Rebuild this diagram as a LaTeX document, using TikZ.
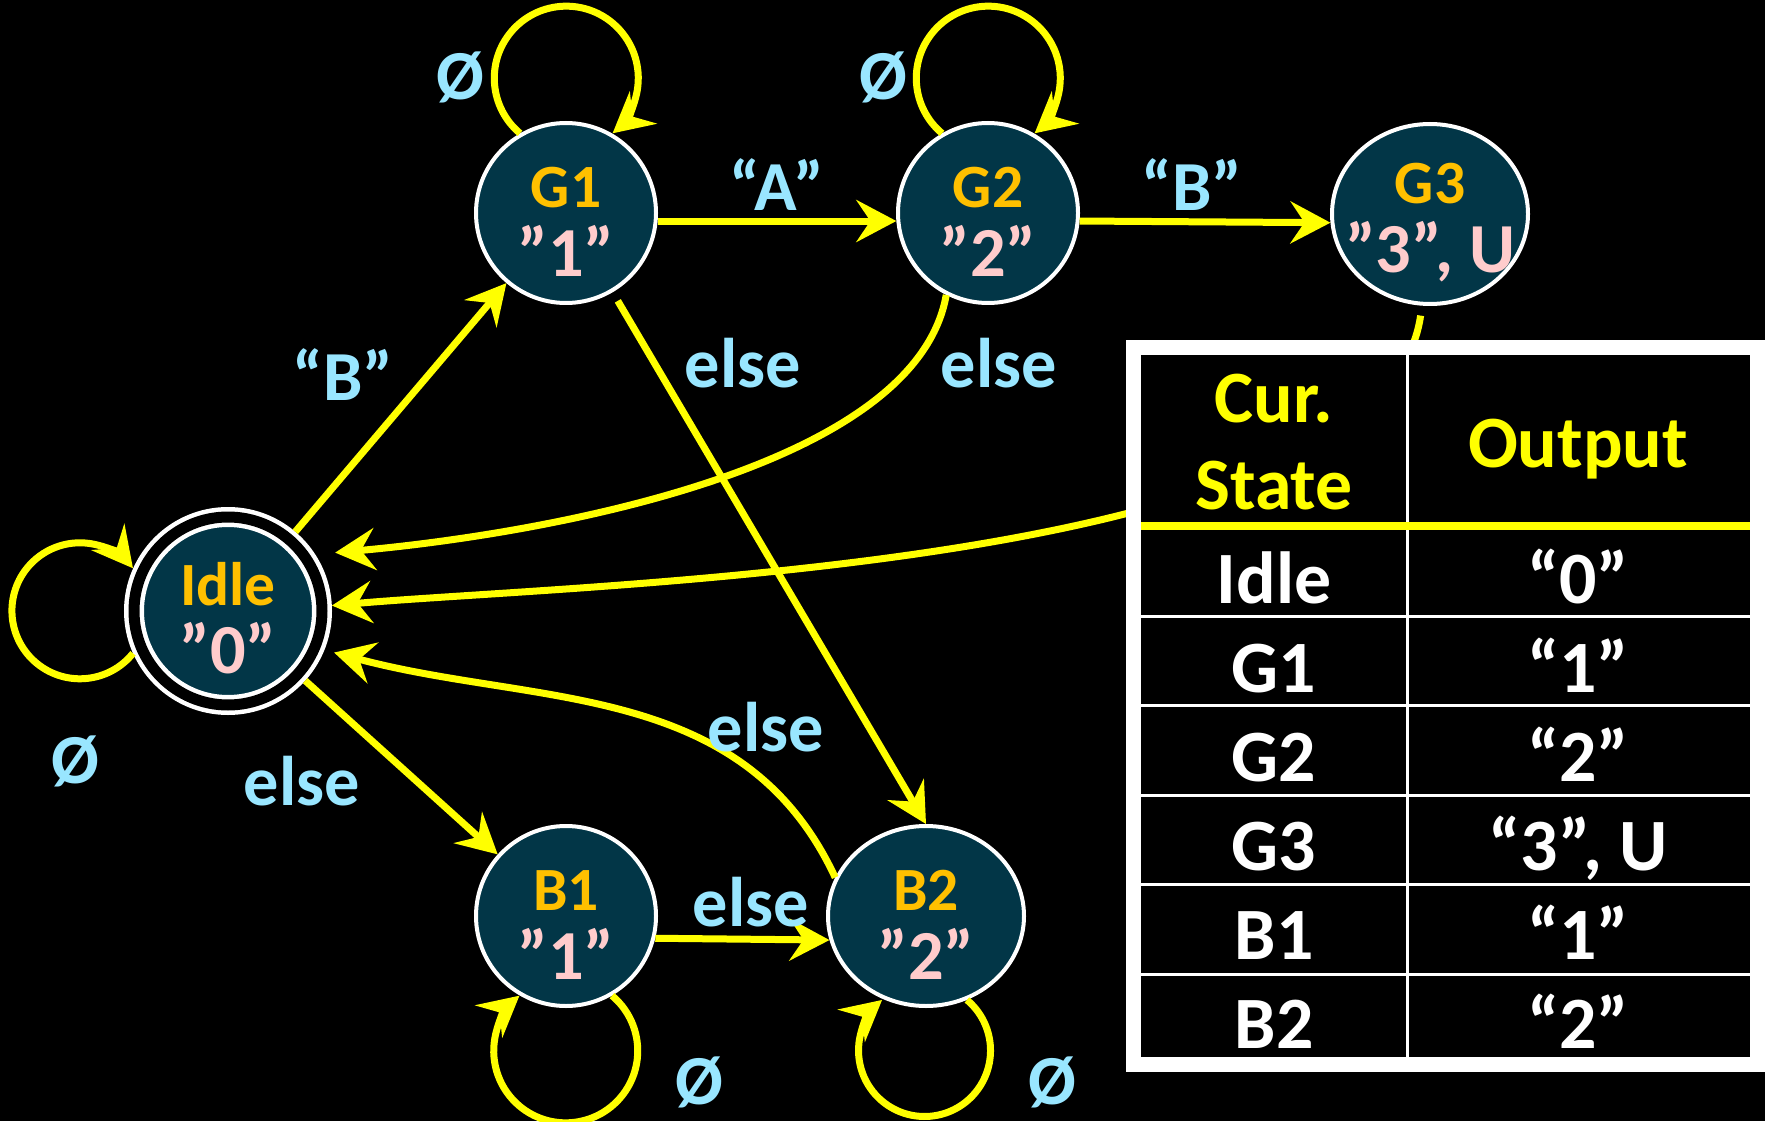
\documentclass[tikz,border=0pt]{standalone}
\usepackage{fontspec}
\setmainfont{Carlito}
\usepackage{tikz}
\usetikzlibrary{arrows.meta, shapes.geometric, positioning}

\definecolor{stfill}{HTML}{023647}
\definecolor{stname}{HTML}{FFC000}
\definecolor{stout}{HTML}{FFCCCC}
\definecolor{lblcol}{HTML}{99E6FF}
\definecolor{edgecol}{HTML}{FFFF00}

\newcommand{\stxt}[2]{\rule{0pt}{5.75mm}{\fontsize{17.5}{19.5}\selectfont\color{stname}#1}\\%
  {\fontsize{20}{19.5}\selectfont\color{stout}#2}}

\tikzset{
  state/.style={circle, draw=white, line width=0.4mm, fill=stfill, minimum size=18mm,
    inner sep=0pt, outer sep=0.2mm, align=center, font=\fontsize{20}{19.5}\selectfont\bfseries},
  wide/.style={ellipse, minimum width=19.6mm, minimum height=18mm, inner xsep=-2.5mm, inner ysep=-1.5mm},
  idle/.style={state, minimum size=18.8mm, line width=0.45mm, double=black,
    double distance=1.1mm, outer sep=1mm},
  trans/.style={draw=edgecol, line width=0.7mm, -{Stealth[length=4mm, width=4.2mm, inset=1.4mm]}},
  lbl/.style={text=lblcol, font=\fontsize{20}{24}\selectfont\bfseries, inner sep=0pt},
  cell/.style={font=\fontsize{21}{25}\selectfont\bfseries, align=center, inner sep=0pt}
}

\begin{document}
\begin{tikzpicture}[x=0.1mm, y=0.1mm]
\fill[black] (0,0) rectangle (1765,1121);
\useasboundingbox (0,0) rectangle (1765,1121);

% states
\node[idle] (Idle) at (228,510) {\stxt{Idle}{”0”}};
\node[state] (G1) at (566,908) {\stxt{G1}{”1”}};
\node[state] (G2) at (988,908) {\stxt{G2}{”2”}};
\node[state, wide] (G3) at (1430,907) {\stxt{G3}{”3”, U}};
\node[state] (B1) at (566,205) {\stxt{B1}{”1”}};
\node[state, wide] (B2) at (926,205) {\stxt{B2}{”2”}};

% transitions
\draw[trans] (Idle) -- (G1);
\draw[trans] (G1.-5) -- (G2.185);
\draw[trans] (G2.-5) -- (G3.185);
\draw[trans, shorten <=1mm] (G1) -- (B2.north);
\draw[trans] (Idle) -- (B1);
\draw[trans] (B1.-14.5) -- (B2.194);
\draw[trans, shorten >=2mm] (G2.243) to[out=260, in=5, looseness=0.7] (Idle.33);
\draw[trans, shorten <=1mm] (G3.-95) to[out=262, in=5, looseness=0.6] (Idle.3);
\draw[trans, shorten >=1mm] (B2.157) to[out=115, in=-15] (Idle.-22);

% self loops
\draw[trans] (Idle.204) arc[start angle=-38.7, end angle=-321.3, radius=68];
\draw[trans] (G1.120) arc[start angle=230, end angle=-50, radius=72];
\draw[trans] (G2.120) arc[start angle=230, end angle=-50, radius=72];
\draw[trans] (B1.-60) arc[start angle=50, end angle=-230, radius=72];
\draw[trans] (B2.-64) arc[start angle=50, end angle=-230, radius=66];

% labels
\node[lbl] (lbA) at (777,936) {“A”};
\node[lbl] (lbB) at (1192,936) {“B”};
\node[lbl] (lbIdleG1) at (343,746) {“B”};
\node[lbl] (lbG1B2) at (743,758) {else};
\node[lbl] (lbG2Idle) at (999,758) {else};
\node[lbl] (lbB2Idle) at (766,394) {else};
\node[lbl] (lbIdleB1) at (302,340) {else};
\node[lbl] (lbB1B2) at (751,219) {else};
\node[lbl] (lpIdle) at (75,360) {Ø};
\node[lbl] (lpG1) at (460,1044) {Ø};
\node[lbl] (lpG2) at (883,1044) {Ø};
\node[lbl] (lpB1) at (699,39) {Ø};
\node[lbl] (lpB2) at (1052,39) {Ø};

% output table
\draw[white, line width=1.5mm, fill=black] (1133.5,56.5) rectangle (1757.5,774);
\draw[white, line width=0.3mm] (1407,64) -- (1407,766);
\foreach \y in {505,415.5,326,236.5,147} \draw[white, line width=0.3mm] (1141,\y) -- (1750,\y);
\draw[edgecol, line width=0.75mm] (1141,595) -- (1750,595);
\node[cell, text=edgecol] (hdState) at (1274,679) {Cur.\\State};
\node[cell, text=edgecol, anchor=base] (hdOut) at (1578,654) {Output};
\foreach \s/\o [count=\i] in {Idle/“0”, G1/“1”, G2/“2”, G3/{“3”, U}, B1/“1”, B2/“2”} {
  \node[cell, text=white, anchor=base] (st\i) at (1274,{607-89*\i}) {\s};
  \node[cell, text=white, anchor=base] (out\i) at (1578,{607-89*\i}) {\o};
}
\end{tikzpicture}
\end{document}
